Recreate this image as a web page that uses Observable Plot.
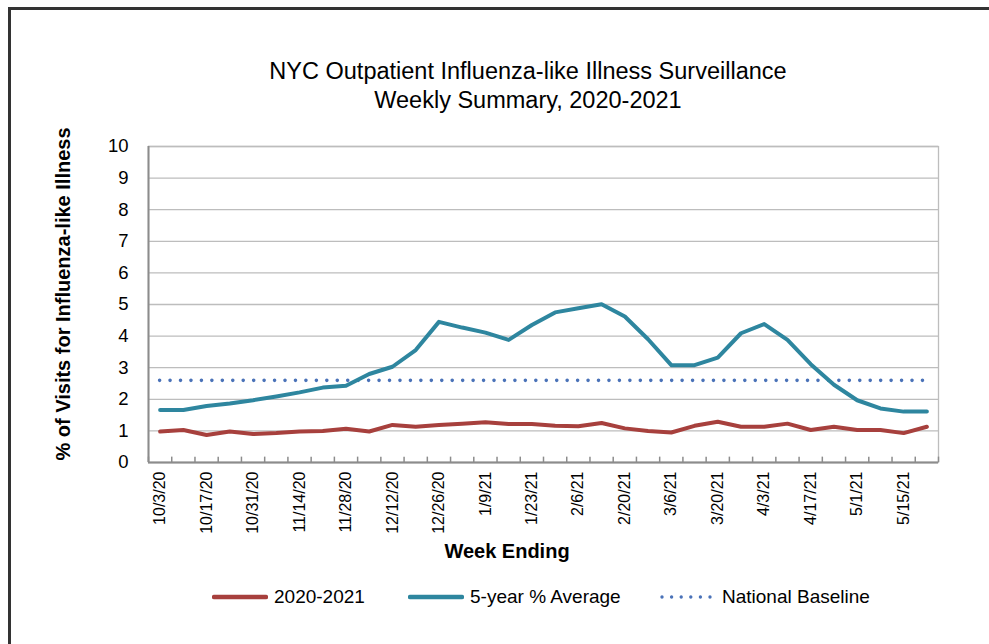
<!DOCTYPE html>
<html>
<head>
<meta charset="utf-8">
<script src="https://cdn.jsdelivr.net/npm/d3@7"></script>
<script src="https://cdn.jsdelivr.net/npm/@observablehq/plot@0.6"></script>
<style>
  html, body { margin: 0; padding: 0; background: #fff; }
  #wrap { position: relative; width: 989px; height: 644px; overflow: hidden; font-family: "Liberation Sans", Arial, sans-serif; color: #000; }
  #border { position: absolute; left: 8px; top: 7px; width: 990px; height: 700px; border-left: 3px solid #333; border-top: 3px solid #333; border-right: none; border-bottom: none; }
  #title { position: absolute; left: 128px; width: 800px; top: 57px; text-align: center; font-size: 23.5px; line-height: 29px; }
  #chart { position: absolute; left: 0; top: 125px; }
  #ylabel { position: absolute; left: 63px; top: 294px; transform: translate(-50%, -50%) rotate(-90deg); white-space: nowrap; font-weight: bold; font-size: 20px; }
  #xlabel { position: absolute; left: 507px; top: 551px; transform: translate(-50%, -50%); white-space: nowrap; font-weight: bold; font-size: 20px; }
  #legend { position: absolute; top: 584px; left: 0; width: 989px; height: 26px; font-size: 19px; }
  .item { position: absolute; top: 0; display: flex; align-items: center; height: 26px; white-space: nowrap; }
  .item svg { margin-right: 6px; }
</style>
</head>
<body>
<div id="wrap">
  <div id="border"></div>
  <div id="title">NYC Outpatient Influenza-like Illness Surveillance<br>Weekly Summary, 2020-2021</div>
  <div id="chart"></div>
  <div id="ylabel">% of Visits for Influenza-like Illness</div>
  <div id="xlabel">Week Ending</div>
  <div id="legend"></div>
</div>
<script>
// Week-ending dates (every week, 10/3/20 through 5/22/21)
const weeks = ["10/3/20","10/10/20","10/17/20","10/24/20","10/31/20","11/7/20","11/14/20","11/21/20","11/28/20","12/5/20",
  "12/12/20","12/19/20","12/26/20","1/2/21","1/9/21","1/16/21","1/23/21","1/30/21","2/6/21","2/13/21",
  "2/20/21","2/27/21","3/6/21","3/13/21","3/20/21","3/27/21","4/3/21","4/10/21","4/17/21","4/24/21",
  "5/1/21","5/8/21","5/15/21","5/22/21"];
// Tick labels shown on the axis (every other week)
const tickLabels = ["10/3/20","10/17/20","10/31/20","11/14/20","11/28/20","12/12/20","12/26/20","1/9/21","1/23/21",
  "2/6/21","2/20/21","3/6/21","3/20/21","4/3/21","4/17/21","5/1/21","5/15/21"];
// % of visits for ILI, 2020-2021 season
const season2021 = [0.98,1.03,0.87,0.98,0.90,0.93,0.98,1.00,1.07,0.98,
  1.19,1.13,1.19,1.23,1.27,1.22,1.22,1.16,1.15,1.25,
  1.08,1.00,0.95,1.16,1.29,1.13,1.13,1.23,1.03,1.13,
  1.03,1.03,0.93,1.13];
// 5-year % average
const fiveYearAvg = [1.66,1.66,1.79,1.87,1.97,2.09,2.22,2.37,2.43,2.80,
  3.03,3.56,4.45,4.27,4.11,3.88,4.35,4.75,4.88,5.01,
  4.62,3.90,3.08,3.08,3.32,4.09,4.38,3.88,3.11,2.46,
  1.97,1.71,1.61,1.61];
// National baseline
const nationalBaseline = 2.6;
const yTicks = [0,1,2,3,4,5,6,7,8,9,10];

const colRed = "#A7403D", colTeal = "#2E869F", colBlue = "#4A72B8";

const rows = weeks.map((w, i) => ({i, week: w, season: season2021[i], avg: fiveYearAvg[i]}));
const tickIdx = tickLabels.map(t => weeks.indexOf(t));
const boundaries = d3.range(weeks.length + 1).map(i => i - 0.5);

const chart = Plot.plot({
  width: 989,
  height: 445,
  marginLeft: 148,
  marginRight: 51,
  marginTop: 21,
  marginBottom: 108,
  style: {fontFamily: "'Liberation Sans', Arial, sans-serif", background: "transparent"},
  x: {type: "linear", domain: [-0.5, weeks.length - 0.5]},
  y: {domain: [0, 10]},
  marks: [
    Plot.gridY(yTicks, {stroke: "#BDBDBD", strokeOpacity: 1, strokeWidth: 1.3}),
    Plot.frame({stroke: "#BDBDBD", strokeWidth: 1.3}),
    Plot.ruleX([-0.5], {stroke: "#8C8C8C", strokeWidth: 2}),
    Plot.ruleY([0], {stroke: "#8C8C8C", strokeWidth: 2}),
    Plot.ruleX(boundaries, {y1: 0, y2: 0.17, stroke: "#8C8C8C", strokeWidth: 1.5}),
    Plot.axisY(yTicks, {tickSize: 0, tickPadding: 20, fontSize: 18.5, label: null}),
    Plot.axisX(tickIdx, {tickSize: 0, tickPadding: 9, tickRotate: -90, fontSize: 16, label: null,
      tickFormat: i => weeks[i], style: "letter-spacing:0.6px"}),
    Plot.ruleY([nationalBaseline], {x1: 0, x2: weeks.length - 1, stroke: colBlue, strokeWidth: 3.6,
      strokeDasharray: "0,10.45", strokeLinecap: "round"}),
    Plot.line(rows, {x: "i", y: "season", stroke: colRed, strokeWidth: 4, strokeLinejoin: "round", strokeLinecap: "round"}),
    Plot.line(rows, {x: "i", y: "avg", stroke: colTeal, strokeWidth: 4, strokeLinejoin: "round", strokeLinecap: "round"})
  ]
});
document.getElementById("chart").appendChild(chart);

// Legend
const legendItems = [
  {label: "2020-2021", color: colRed, dotted: false, left: 212},
  {label: "5-year % Average", color: colTeal, dotted: false, left: 408},
  {label: "National Baseline", color: colBlue, dotted: true, left: 660}
];
const legend = document.getElementById("legend");
for (const it of legendItems) {
  const d = document.createElement("div");
  d.className = "item";
  d.style.left = it.left + "px";
  const dash = it.dotted ? `stroke-dasharray="0,9.6" stroke-width="3.4"` : `stroke-width="4.5"`;
  d.innerHTML = `<svg width="56" height="10"><line x1="2" x2="54" y1="5" y2="5" stroke="${it.color}" ${dash} stroke-linecap="round"/></svg><span>${it.label}</span>`;
  legend.appendChild(d);
}
</script>
</body>
</html>
